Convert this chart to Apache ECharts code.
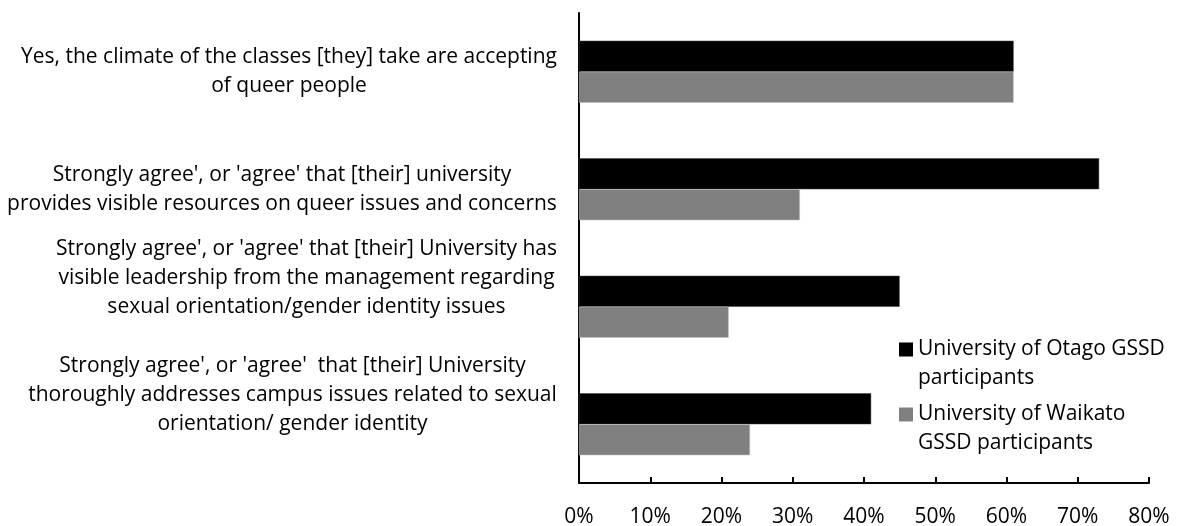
<!DOCTYPE html>
<html><head><meta charset="utf-8">
<script src="https://cdn.jsdelivr.net/npm/echarts@6/dist/echarts.min.js"></script>
<style>html,body{margin:0;padding:0;background:#fff}#c{width:1181px;height:526px}</style>
</head><body><div id="c"></div>
<script>
const categories = [
  "Yes, the climate of the classes [they] take are accepting\nof queer people",
  "Strongly agree', or 'agree' that [their] university\nprovides visible resources on queer issues and concerns",
  "Strongly agree', or 'agree' that [their] University has\nvisible leadership from the management regarding\nsexual orientation/gender identity issues",
  "Strongly agree', or 'agree'  that [their] University\nthoroughly addresses campus issues related to sexual\norientation/ gender identity"
];
const seriesNames = ["University of Otago GSSD\nparticipants", "University of Waikato\nGSSD participants"];
const otagoValues = [61, 73, 45, 41];
const waikatoValues = [61, 31, 21, 24];
const xMin = 0, xMax = 80, xStep = 10;

const FONT = '"Open Sans"';
const FS = 21;
const LH = 29;

const cv = document.createElement('canvas').getContext('2d');
cv.font = FS + 'px ' + FONT;
const rich = {};
categories.forEach((c, i) => {
  const w = Math.max(...c.split('\n').map(l => cv.measureText(l).width));
  rich['w' + i] = {width: Math.ceil(w), align: 'center', fontFamily: FONT, fontSize: FS, lineHeight: LH, color: '#000'};
});

const chart = echarts.init(document.getElementById('c'), null, {renderer: 'canvas'});
chart.setOption({
  animation: false,
  backgroundColor: '#fff',
  grid: {left: 579, right: 32, top: 13, bottom: 43, containLabel: false, outerBoundsMode: 'none'},
  xAxis: {
    type: 'value', min: xMin, max: xMax, interval: xStep,
    axisLine: {show: true, lineStyle: {color: '#000', width: 2}},
    axisTick: {show: true, inside: true, length: 6, lineStyle: {color: '#000', width: 2}},
    splitLine: {show: false},
    axisLabel: {formatter: '{value}%', fontFamily: FONT, fontSize: FS, color: '#000', margin: 24}
  },
  yAxis: {
    type: 'category', data: categories, inverse: true,
    axisLine: {show: true, lineStyle: {color: '#000', width: 2}},
    axisTick: {show: false},
    axisLabel: {
      margin: 22, align: 'right', interval: 0, hideOverlap: false,
      formatter: function (v, idx) {
        const lines = v.split('\n');
        let s = lines.map(l => '{w' + idx + '|' + l + '}').join('\n');
        if (lines.length > 2) s += '\n{w' + idx + '| }\n{w' + idx + '| }';
        return s;
      },
      rich: rich
    }
  },
  legend: {
    orient: 'vertical', left: 899, top: 306, padding: 0,
    itemWidth: 14, itemHeight: 14, itemGap: -22, icon: 'rect',
    itemStyle: {borderWidth: 0},
    formatter: function (name) { return ' \n' + name; },
    textStyle: {fontFamily: FONT, fontSize: FS, lineHeight: LH, color: '#000'},
    data: seriesNames
  },
  series: [
    {name: seriesNames[0], type: 'bar', data: otagoValues, barWidth: 31, barGap: '0%',
     itemStyle: {color: '#000000', borderColor: '#404040', borderWidth: 0.5}},
    {name: seriesNames[1], type: 'bar', data: waikatoValues, barWidth: 31, barGap: '0%',
     itemStyle: {color: '#808080', borderColor: '#bfbfbf', borderWidth: 0.5}}
  ]
});
</script></body></html>
